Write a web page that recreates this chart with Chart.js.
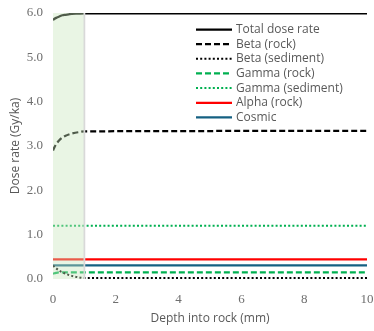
<!DOCTYPE html>
<html>
<head>
<meta charset="utf-8">
<script src="https://cdn.jsdelivr.net/npm/chart.js@4/dist/chart.umd.min.js"></script>
<style>
    body { margin: 0; background: #fff; }
    #wrap { width: 374px; height: 331px; }
</style>
</head>
<body>
<div id="wrap"><canvas id="myChart" width="374" height="331"></canvas></div>
<script>
// depth into rock (mm)
const depth = [0, 0.05, 0.1, 0.2, 0.3, 0.4, 0.5, 0.6, 0.8, 1, 10];

// dose rates (Gy/ka)
const totalDose     = [5.84, 5.87, 5.89, 5.92, 5.95, 5.96, 5.97, 5.98, 5.985, 5.99, 5.99];
const betaRock      = [2.90, 2.98, 3.04, 3.13, 3.19, 3.23, 3.26, 3.28, 3.31, 3.33, 3.34];
const betaSediment  = [0.30, 0.27, 0.24, 0.19, 0.15, 0.12, 0.09, 0.07, 0.04, 0.02, 0.02];
const gammaRock     = [0.12, 0.13, 0.14, 0.15, 0.15, 0.15, 0.15, 0.15, 0.15, 0.15, 0.15];
const gammaSediment = [1.20, 1.20, 1.20, 1.20, 1.20, 1.20, 1.20, 1.20, 1.20, 1.20, 1.20];
const alphaRock     = [0.44, 0.44, 0.44, 0.44, 0.44, 0.44, 0.44, 0.44, 0.44, 0.44, 0.44];
const cosmic        = [0.31, 0.31, 0.31, 0.31, 0.31, 0.31, 0.31, 0.31, 0.31, 0.31, 0.31];

const xTicks = [0, 2, 4, 6, 8, 10];
const yTicks = [0, 1, 2, 3, 4, 5, 6];

// shaded zone (sediment side of the surface)
const shadeFrom = 0;
const shadeTo = 1;

const serif = "'Liberation Serif', 'DejaVu Serif', serif";
const sans = 'Open Sans';

const pts = arr => arr.map((v, i) => ({x: depth[i], y: v}));

function serie(label, values, color, dash, width) {
    return {
        label: label,
        data: pts(values),
        borderColor: color,
        backgroundColor: color,
        borderDash: dash,
        borderWidth: width,
        pointRadius: 0,
        fill: false,
        cubicInterpolationMode: 'monotone'
    };
}

// chart area is pinned by layout padding, not by the tick labels
function noPad(s) {
    s.paddingTop = 0;
    s.paddingBottom = 0;
    s.paddingLeft = 0;
    s.paddingRight = 0;
}

const shade = {
    id: 'shade',
    afterDatasetsDraw(chart) {
        const {ctx, scales: {x, y}} = chart;
        const x0 = x.getPixelForValue(shadeFrom);
        const x1 = x.getPixelForValue(shadeTo);
        const top = y.getPixelForValue(6);
        const bottom = y.getPixelForValue(0);
        ctx.save();
        ctx.fillStyle = 'rgba(200, 230, 187, 0.4)';
        ctx.fillRect(x0, top, x1 - x0, bottom - top);
        ctx.strokeStyle = '#d9d9d9';
        ctx.lineWidth = 1.75;
        ctx.beginPath();
        ctx.moveTo(x1, top);
        ctx.lineTo(x1, bottom);
        ctx.stroke();
        ctx.restore();
    }
};

// legend sits inside the plot, top right
const legendBox = {
    id: 'legendBox',
    afterDraw(chart) {
        const {ctx} = chart;
        ctx.save();
        ctx.font = `12px "${sans}"`;
        ctx.fillStyle = '#595959';
        ctx.textBaseline = 'middle';
        chart.data.datasets.forEach((ds, i) => {
            const yy = 29.5 + i * 14.65;
            ctx.beginPath();
            ctx.setLineDash(ds.borderDash || []);
            ctx.strokeStyle = ds.borderColor;
            ctx.lineWidth = ds.borderWidth;
            ctx.moveTo(196, yy);
            ctx.lineTo(232, yy);
            ctx.stroke();
            ctx.setLineDash([]);
            ctx.fillText(ds.label, 236, yy);
        });
        ctx.restore();
    }
};

const ctx = document.getElementById('myChart').getContext('2d');

new Chart(ctx, {
    type: 'line',
    data: {
        datasets: [
            serie('Total dose rate', totalDose, '#000000', [], 2.25),
            serie('Beta (rock)', betaRock, '#000000', [6, 3], 2.25),
            serie('Beta (sediment)', betaSediment, '#000000', [2, 2.2], 2),
            serie('Gamma (rock)', gammaRock, '#00b050', [6, 3], 2.25),
            serie('Gamma (sediment)', gammaSediment, '#00b050', [2, 2.2], 2),
            serie('Alpha (rock)', alphaRock, '#ff0000', [], 2.25),
            serie('Cosmic', cosmic, '#156082', [], 2.25)
        ]
    },
    options: {
        responsive: false,
        animation: false,
        layout: { padding: { top: 13, right: 7, bottom: 0, left: 0 } },
        plugins: {
            legend: { display: false },
            tooltip: { enabled: false }
        },
        scales: {
            x: {
                type: 'linear',
                min: 0,
                max: 10,
                afterFit: s => { s.height = 52; noPad(s); },
                afterBuildTicks: s => { s.ticks = xTicks.map(v => ({value: v})); },
                grid: { display: false, drawTicks: false },
                border: { display: false },
                ticks: {
                    color: '#6e6e6e',
                    padding: 13,
                    font: { family: serif, size: 13 },
                    callback: v => String(v)
                },
                title: {
                    display: true,
                    text: 'Depth into rock (mm)',
                    color: '#595959',
                    padding: { top: 5, bottom: 5 },
                    font: { family: sans, size: 12 }
                }
            },
            y: {
                min: 0,
                max: 6,
                afterFit: s => { s.width = 53; noPad(s); },
                afterBuildTicks: s => { s.ticks = yTicks.map(v => ({value: v})); },
                grid: { display: false, drawTicks: false },
                border: { display: false },
                ticks: {
                    color: '#6e6e6e',
                    padding: 10,
                    font: { family: serif, size: 13 },
                    callback: v => v.toFixed(1)
                },
                title: {
                    display: true,
                    text: 'Dose rate (Gy/ka)',
                    color: '#595959',
                    padding: { top: 8, bottom: 8 },
                    font: { family: sans, size: 12 }
                }
            }
        }
    },
    plugins: [shade, legendBox]
});
</script>
</body>
</html>
